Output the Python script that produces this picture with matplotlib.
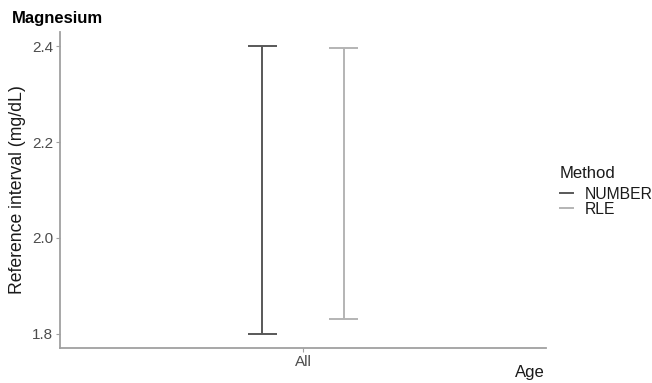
import matplotlib
matplotlib.use("Agg")
import matplotlib.pyplot as plt
from matplotlib.lines import Line2D

plt.rcParams['font.family'] = ['Liberation Sans', 'DejaVu Sans']

categories = ["All"]
methods = ["NUMBER", "RLE"]
lower = [1.80, 1.83]
upper = [2.40, 2.397]
colors = ["#585858", "#b4b4b4"]
yticks = [1.8, 2.0, 2.2, 2.4]

fig = plt.figure(figsize=(6.52, 3.83), dpi=100)
ax = fig.add_axes([60 / 652, 1 - 348 / 383, 486 / 652, 316 / 383])

offsets = [-0.1, 0.1]
cap = 0.037
for i, m in enumerate(methods):
    x = 1 + offsets[i]
    ax.plot([x, x], [lower[i], upper[i]], color=colors[i], lw=1.4, solid_capstyle='butt')
    ax.plot([x - cap, x + cap], [lower[i], lower[i]], color=colors[i], lw=1.4, solid_capstyle='butt')
    ax.plot([x - cap, x + cap], [upper[i], upper[i]], color=colors[i], lw=1.4, solid_capstyle='butt')

ax.set_xlim(0.4, 1.6)
ax.set_ylim(1.77, 2.43)
ax.set_xticks([1])
ax.set_xticklabels(categories)
ax.set_yticks(yticks)
ax.set_yticklabels([f"{v:.1f}" for v in yticks])

for s in ["top", "right"]:
    ax.spines[s].set_visible(False)
for s in ["left", "bottom"]:
    ax.spines[s].set_color("#a0a0a0")
    ax.spines[s].set_linewidth(1.3)
ax.tick_params(axis='both', colors="#a0a0a0", labelcolor="#4d4d4d", labelsize=11, length=3, width=0.8, pad=2)

ax.set_ylabel("Reference interval (mg/dL)", fontsize=12.7, color="#1a1a1a", labelpad=4)
fig.text(530 / 652, 1 - 372 / 383, "Age", fontsize=12, color="#1a1a1a", ha='center', va='center')
fig.text(12 / 652, 1 - 18 / 383, "Magnesium", fontsize=12, fontweight='bold', color="#000000", ha='left', va='center')

handles = [Line2D([0], [0], color=c, lw=1.4) for c in colors]
leg = fig.legend(handles, methods, title="Method", loc='upper left',
                 bbox_to_anchor=(549 / 652, 1 - 155 / 383), frameon=False,
                 fontsize=11.3, title_fontsize=12, handlelength=0.8,
                 handletextpad=0.8, labelspacing=0.0, borderpad=0.2)
leg._legend_box.align = "left"
leg._legend_box.sep = 4
for t in leg.get_texts():
    t.set_color("#1a1a1a")
leg.get_title().set_color("#1a1a1a")

fig.savefig("out.png", dpi=100)
